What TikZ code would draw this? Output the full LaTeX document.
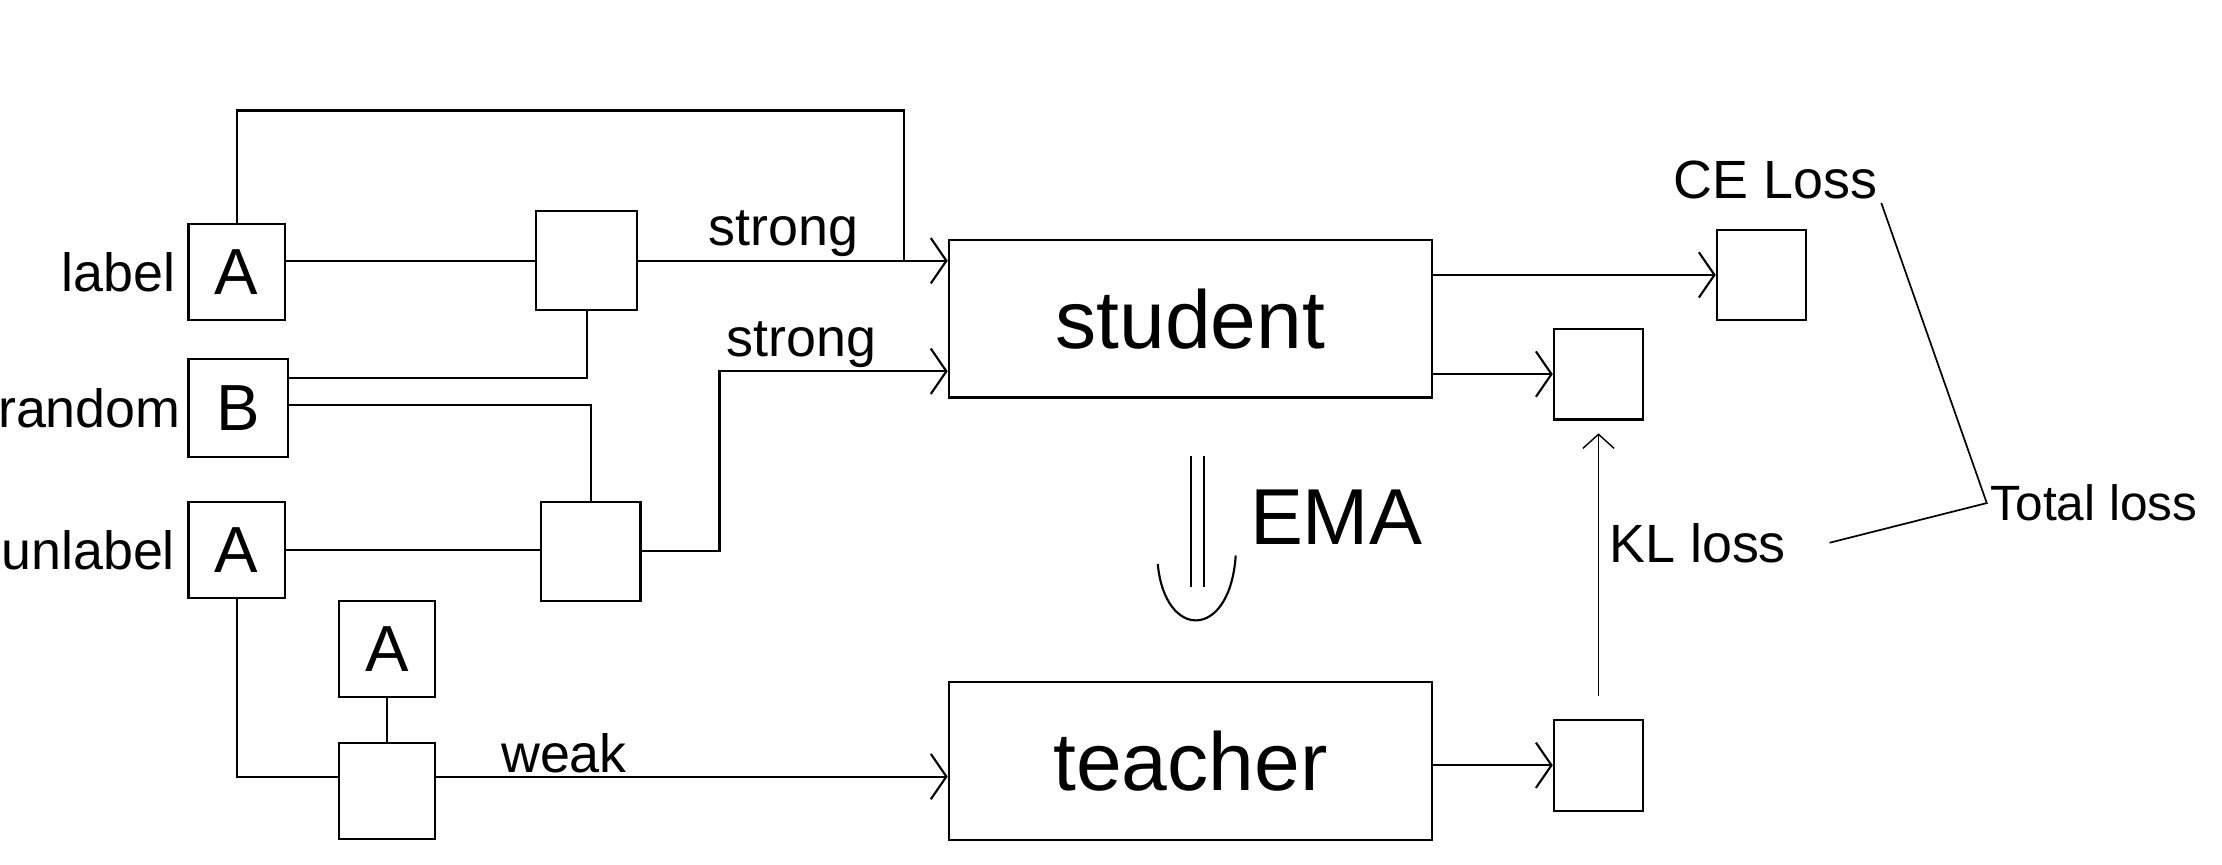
\documentclass[tikz,border=0pt]{standalone}
\usepackage{fontspec}
\setmainfont{Liberation Sans}
\usetikzlibrary{arrows.meta,positioning}

\begin{document}
\begin{tikzpicture}[x=1pt,y=-1pt,line width=1.5pt,
  box/.style={draw,rectangle,inner sep=0pt,minimum width=68pt,minimum height=68pt,font=\fontsize{46}{46}\selectfont},
  outbox/.style={draw,rectangle,minimum width=63pt,minimum height=64pt},
  net/.style={draw,rectangle,minimum width=341pt,minimum height=111pt,font=\fontsize{58}{58}\selectfont},
  tag/.style={font=\fontsize{38}{38}\selectfont,inner sep=2pt},
  arr/.style={-{Straight Barb[length=11pt,width=32pt]}}]
\useasboundingbox (0,0) rectangle (1568,610);

% inputs
\node[box] (labelA) at (167,192) {A};
\node[box,minimum width=70pt,minimum height=69pt] (randB) at (168,288) {B};
\node[box] (unlabA) at (167,388) {A};
\node[box] (augA) at (273,458) {A};
\node[box] (weakbox) at (273,558) {};
\node[tag,left=6pt of labelA] {label};
\node[tag,left=2pt of randB] {random};
\node[tag,left=6pt of unlabA] {unlabel};

% mixing
\node[box,minimum width=71pt,minimum height=70pt] (mixtop) at (414,184) {};
\node[box,minimum width=70pt,minimum height=70pt] (mixbot) at (417,389) {};

% models
\node[net] (student) at (840,225) {student};
\node[net] (teacher) at (840,537) {teacher};
\node[outbox] (ceout) at (1243,194) {};
\node[outbox] (stuout) at (1128,264) {};
\node[outbox] (teaout) at (1128,540) {};

% losses
\node[tag] (celbl) at (1253,127) {CE Loss};
\node[tag] (kllbl) at (1198,383) {KL loss};
\node[tag,anchor=west,font=\fontsize{35}{35}\selectfont] (total) at (1402,355) {Total loss};
\node[font=\fontsize{56}{56}\selectfont,anchor=west] (ema) at (878,365) {EMA};
\coordinate (emaT) at (845,322);
\coordinate (emaB) at (845,414);

\coordinate (in1) at (student.west |- mixtop.east);
\coordinate (in2) at ([yshift=-37pt]student.west);
\coordinate (top) at (638,78);

\draw (labelA.north) |- (top) -- (top |- in1);
\draw (mixtop.west -| labelA.east) -- (mixtop.west);
\draw[arr] (mixtop.east) -- node[tag,above,pos=0.47]{strong} (in1);
\draw ([yshift=21pt]randB.east) -| (mixtop.south);
\draw ([yshift=2pt]randB.east) -| (mixbot.north);
\draw (unlabA.east) -- (unlabA.east -| mixbot.west);
\draw[arr] (mixbot.east) -- ++(55,0) |- node[tag,above,pos=0.68]{strong} (in2);
\draw (unlabA.south) |- ([yshift=10pt]weakbox.west);
\draw (augA) -- (weakbox);
\draw[arr] ([yshift=10pt]weakbox.east) -- node[tag,above,pos=0.25]{weak} ([yshift=10pt]weakbox.east -| teacher.west);

\draw[arr] (ceout.west -| student.east) -- (ceout.west);
\draw[arr] (stuout.west -| student.east) -- (stuout.west);
\draw[arr] (teaout.west -| teacher.east) -- (teaout.west);
\draw[line width=1pt,-{Straight Barb[length=10pt,width=22pt]},shorten <=16pt,shorten >=9pt] (teaout.north) -- (stuout.south);
\draw[line width=1.2pt] (celbl.south east) -- (total.west) -- ([xshift=28pt]kllbl.east);

% EMA update
\draw[double,double distance=8pt] (emaT) -- (emaB);
\draw (817,398) .. controls (822,452) and (868,452) .. (872,392);
\end{tikzpicture}
\end{document}
